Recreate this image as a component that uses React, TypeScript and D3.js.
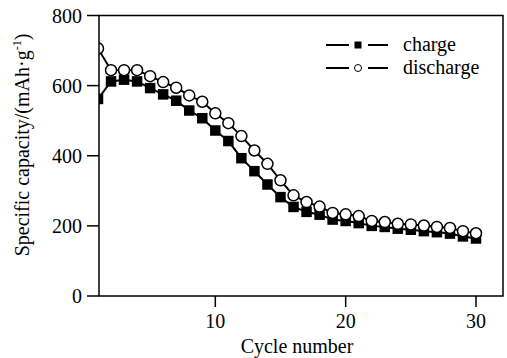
import React from "react";
import * as d3 from "d3";

const cycles = d3.range(1, 31);
const chargeValues = [562, 612, 617, 612, 593, 575, 557, 529, 507, 472, 442, 393, 356, 318, 282, 254, 240, 232, 218, 214, 208, 200, 197, 192, 189, 185, 182, 178, 170, 164];
const dischargeValues = [706, 644, 644, 644, 627, 610, 594, 572, 554, 521, 493, 456, 415, 377, 330, 287, 268, 255, 237, 233, 228, 214, 211, 206, 204, 201, 197, 194, 185, 179];
const yTicks = [0, 200, 400, 600, 800];
const xTicks = [10, 20, 30];
const seriesNames = ["charge", "discharge"];

const W = 507, H = 358;
const left = 99, right = 503, top = 15.5, bottom = 296;
const font = "Liberation Serif, DejaVu Serif, serif";

export default function App() {
  const x = d3.scaleLinear().domain([1.077, 32.07]).range([left, right]);
  const y = d3.scaleLinear().domain([0, 800]).range([bottom, top]);
  const line = d3.line<number>().x((_, i) => x(cycles[i])).y((d) => y(d));
  const sq = 10.5;
  const r = 5.5;
  const ts = { fontFamily: font, fontSize: 20 };
  return (
    <svg width={W} height={H} style={{ position: "absolute", left: 0, top: 0, background: "#fff", fontFamily: font }}>
      <defs>
        <clipPath id="plot">
          <rect x={left} y={top} width={right - left} height={bottom - top} />
        </clipPath>
      </defs>
      <g clipPath="url(#plot)">
        <path d={line(chargeValues) || ""} fill="none" stroke="#000" strokeWidth={2} />
        <path d={line(dischargeValues) || ""} fill="none" stroke="#000" strokeWidth={2} />
        {chargeValues.map((v, i) => (
          <rect key={"c" + i} x={x(cycles[i]) - sq / 2} y={y(v) - sq / 2} width={sq} height={sq} fill="#000" />
        ))}
        {dischargeValues.map((v, i) => (
          <circle key={"d" + i} cx={x(cycles[i])} cy={y(v)} r={r} fill="#fff" stroke="#000" strokeWidth={1.5} />
        ))}
      </g>
      <rect x={left} y={top} width={right - left} height={bottom - top} fill="none" stroke="#000" strokeWidth={1.5} />
      {yTicks.map((t) => (
        <g key={"y" + t}>
          <line x1={left - 12} x2={left} y1={y(t)} y2={y(t)} stroke="#000" strokeWidth={1.5} />
          <text x={left - 17} y={y(t)} dy="0.35em" textAnchor="end" style={ts}>{t}</text>
        </g>
      ))}
      {xTicks.map((t) => (
        <g key={"x" + t}>
          <line x1={x(t)} x2={x(t)} y1={bottom} y2={bottom + 11} stroke="#000" strokeWidth={1.5} />
          <text x={x(t)} y={bottom + 32} textAnchor="middle" style={ts}>{t}</text>
        </g>
      ))}
      <text x={(left + right) / 2 - 4} y={353} textAnchor="middle" style={ts}>Cycle number</text>
      <text transform={`translate(29,${145}) rotate(-90)`} textAnchor="middle" style={ts}>
        Specific capacity/(mAh·g<tspan dy={-8} style={{ fontSize: 12 }}>-1</tspan><tspan dy={8}>)</tspan>
      </text>
      {seriesNames.map((name, i) => {
        const ly = 45 + i * 23;
        return (
          <g key={name}>
            <line x1={326} x2={349} y1={ly} y2={ly} stroke="#000" strokeWidth={2} />
            <line x1={368} x2={388} y1={ly} y2={ly} stroke="#000" strokeWidth={2} />
            {i === 0 ? (
              <rect x={358 - 3.5} y={ly - 3.5} width={7} height={7} fill="#000" />
            ) : (
              <circle cx={358} cy={ly} r={3.5} fill="#fff" stroke="#000" strokeWidth={1} />
            )}
            <text x={403} y={ly} dy="0.32em" style={ts}>{name}</text>
          </g>
        );
      })}
    </svg>
  );
}
